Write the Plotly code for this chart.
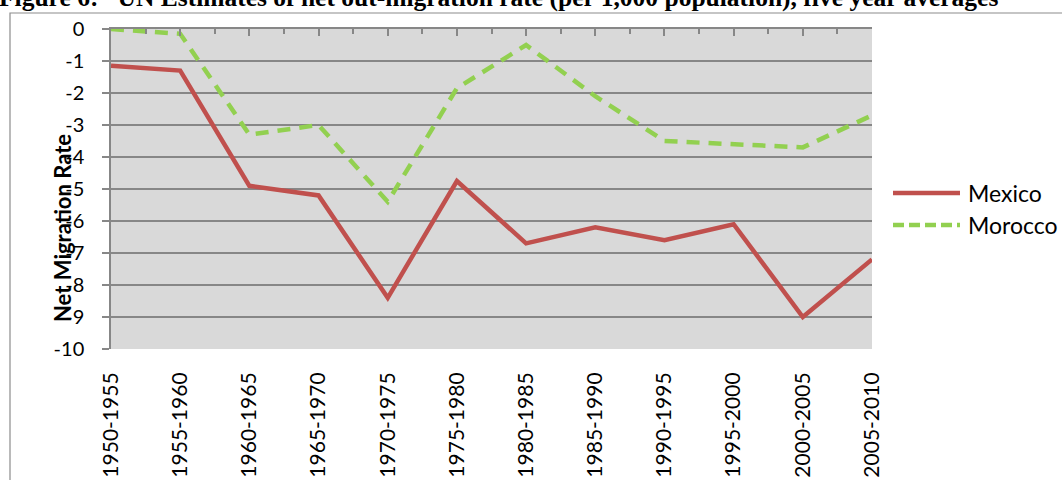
import plotly.graph_objects as go

periods = ["1950-1955", "1955-1960", "1960-1965", "1965-1970", "1970-1975", "1975-1980",
           "1980-1985", "1985-1990", "1990-1995", "1995-2000", "2000-2005", "2005-2010"]
series_names = ["Mexico", "Morocco"]
mexico = [-1.15, -1.3, -4.9, -5.2, -8.4, -4.75, -6.7, -6.2, -6.6, -6.1, -9.0, -7.2]
morocco = [0.0, -0.15, -3.3, -3.0, -5.4, -1.85, -0.5, -2.1, -3.5, -3.6, -3.7, -2.7]
y_ticks = list(range(0, -11, -1))

colors = ["#C0504D", "#92D050"]
dashes = ["solid", "13px,9px"]

W, H = 1062, 480
L, R, T, B = 111, 872, 29, 349  # plot area in px


def px_x(px):
    return (px - L) / (R - L)


def px_y(py):
    return (B - py) / (B - T)


idx = list(range(len(periods)))
fig = go.Figure()
for name, vals, c, d in zip(series_names, [mexico, morocco], colors, dashes):
    fig.add_trace(go.Scatter(x=idx, y=vals, mode="lines", name=name,
                             line=dict(color=c, width=4.5, dash=d),
                             showlegend=False))
# invisible trace on top axis so it renders
fig.add_trace(go.Scatter(x=idx, y=[None] * len(idx), xaxis="x2", showlegend=False,
                         hoverinfo="skip"))

gray = "#878787"
tick_font = dict(family="Lato", size=20, color="black")

fig.update_layout(
    width=W, height=H,
    margin=dict(l=L, r=W - R, t=T, b=H - B, pad=0, autoexpand=False),
    paper_bgcolor="white",
    plot_bgcolor="#D9D9D9",
    font=dict(family="Lato", color="black"),
    xaxis=dict(range=[0, len(periods) - 1], tickmode="array", tickvals=idx, ticktext=periods,
               tickangle=-90, tickfont=dict(family="Lato", size=21, color="black"),
               ticks="outside", ticklen=14, automargin=False,
               tickcolor="rgba(0,0,0,0)", showgrid=False, zeroline=False, showline=False),
    xaxis2=dict(range=[0, len(periods) - 1], overlaying="x", side="top", matches="x",
                tickmode="linear", tick0=0, dtick=1, ticks="inside", ticklen=7,
                tickcolor=gray, tickwidth=1.5, showticklabels=False, showgrid=False,
                zeroline=False, showline=True, linecolor=gray, linewidth=1.5, automargin=False,
                minor=dict(ticks="inside", ticklen=5, tickcolor=gray, tickwidth=1.5,
                           dtick=0.5, tick0=0, showgrid=False)),
    yaxis=dict(range=[-10, 0], tickmode="array", tickvals=y_ticks,
               ticktext=[str(v) for v in y_ticks], tickfont=tick_font,
               ticks="outside", ticklen=7, tickcolor=gray, tickwidth=1.5,
               ticklabelstandoff=14, automargin=False,
               showgrid=True, gridcolor=gray, gridwidth=1.5, zeroline=False,
               showline=True, linecolor=gray, linewidth=1.5),
    showlegend=False,
)

# chart border
fig.add_shape(type="rect", xref="paper", yref="paper",
              x0=px_x(10), x1=px_x(1080), y0=px_y(500), y1=px_y(13),
              line=dict(color="#8C8C8C", width=1.2), fillcolor="rgba(0,0,0,0)", layer="below")

# figure title (cut off at top)
fig.add_annotation(text="<b>Figure 6:   UN Estimates of net out-migration rate (per 1,000 population), five year averages</b>",
                   xref="paper", yref="paper", x=px_x(-3), y=px_y(-2), xanchor="left", yanchor="middle",
                   showarrow=False, font=dict(family="Liberation Serif", size=25.5, color="black"))

# y axis title
fig.add_annotation(text="<b>Net Migration Rate</b>", xref="paper", yref="paper",
                   x=px_x(62), y=px_y(228), xanchor="center", yanchor="middle", textangle=-90,
                   showarrow=False, font=dict(family="Lato", size=22, color="black"))

# legend
leg_y = [193, 225]
for name, c, d, ly in zip(series_names, colors, ["solid", "11px,5px"], leg_y):
    fig.add_shape(type="line", xref="paper", yref="paper",
                  x0=px_x(893), x1=px_x(960), y0=px_y(ly), y1=px_y(ly),
                  line=dict(color=c, width=4.5, dash=d))
    fig.add_annotation(text=name, xref="paper", yref="paper", x=px_x(966), y=px_y(ly),
                       xanchor="left", yanchor="middle", showarrow=False,
                       font=dict(family="Lato", size=23, color="black"))

fig.write_html("out.html", config={"displayModeBar": False},
               post_script="document.body.style.margin='0';")
